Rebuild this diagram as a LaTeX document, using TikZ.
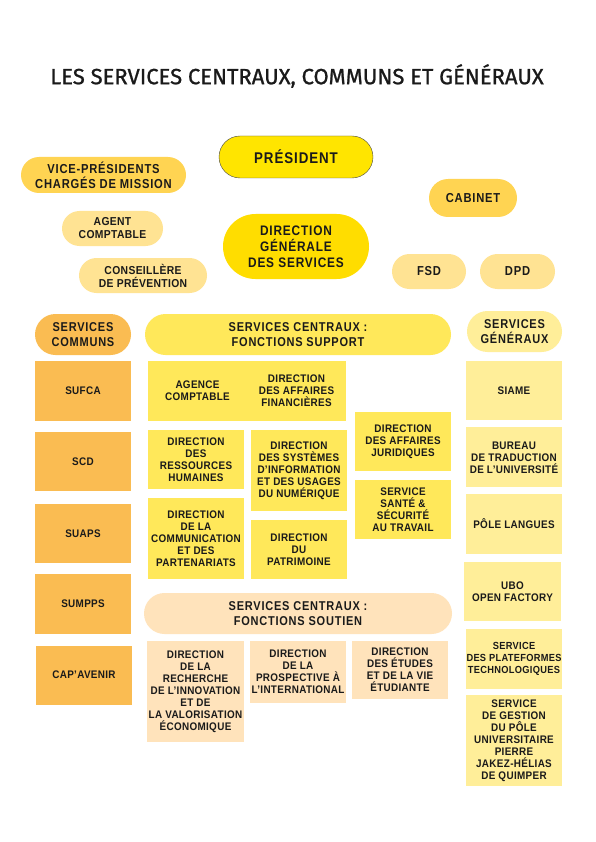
\documentclass[tikz,border=0pt]{standalone}
\usepackage{fontspec}
\usepackage{tikz}
\usetikzlibrary{positioning}
\newfontfamily\fcorps{Liberation Sans}[FakeStretch=0.9,LetterSpace=3]
\newfontfamily\ftete{Liberation Sans}[FakeStretch=0.86,LetterSpace=6]
\newfontfamily\ftitre{Fira Sans}[FakeBold=1]
\definecolor{cnoir}{HTML}{1A1A1A}
\definecolor{cpres}{HTML}{FFE500}
\definecolor{cdgs}{HTML}{FFDD00}
\definecolor{cvice}{HTML}{FFD452}
\definecolor{cclair}{HTML}{FFE393}
\definecolor{ccommun}{HTML}{FABC52}
\definecolor{csupport}{HTML}{FFE85A}
\definecolor{csoutien}{HTML}{FFE3BB}
\definecolor{cgeneral}{HTML}{FFEE99}
\tikzset{
  boite/.style={rectangle, inner sep=2pt, align=center, text=cnoir},
  texte/.style={boite, font=\fcorps\bfseries\fontsize{11}{12}\selectfont},
  pastille/.style={boite, rounded corners=#1, font=\ftete\bfseries\fontsize{13}{15}\selectfont},
  tete/.style={boite, rounded corners=20.5pt, minimum height=41pt,
    font=\ftete\bfseries\fontsize{12.8}{14.5}\selectfont},
  commun/.style={texte, fill=ccommun, minimum width=96pt},
  support/.style={texte, fill=csupport, minimum width=96pt},
  soutien/.style={texte, fill=csoutien, minimum width=96pt},
  general/.style={texte, fill=cgeneral, minimum width=96pt, inner xsep=0pt},
}
\begin{document}
\begin{tikzpicture}[x=1pt, y=-1pt]
  \useasboundingbox[fill=white] (0,0) rectangle (595,842);
  \node[font=\ftitre\fontsize{22}{24}\selectfont, text=cnoir] (titre) at (297,76)
    {LES SERVICES CENTRAUX, COMMUNS ET GÉNÉRAUX};

  % direction
  \node[pastille=21pt, draw=cnoir!80, fill=cpres, minimum width=154pt, minimum height=42pt,
    font=\ftete\bfseries\fontsize{15.5}{17}\selectfont] (pres) at (296,157) {PRÉSIDENT};
  \node[pastille=32.5pt, fill=cdgs, minimum width=146pt, minimum height=65pt,
    font=\ftete\bfseries\fontsize{13.8}{16}\selectfont] (dgs) at (296,246.5)
    {DIRECTION\\GÉNÉRALE\\DES SERVICES};
  \node[pastille=18pt, fill=cvice, minimum width=165pt, minimum height=36pt] (vice) at (103.5,175)
    {VICE-PRÉSIDENTS\\CHARGÉS DE MISSION};
  \node[pastille=17.5pt, fill=cclair, minimum width=101pt, minimum height=35pt,
    font=\fcorps\bfseries\fontsize{11.5}{13}\selectfont] (agent) at (112.5,228.5) {AGENT\\COMPTABLE};
  \node[pastille=17.5pt, fill=cclair, minimum width=128pt, minimum height=35pt,
    font=\fcorps\bfseries\fontsize{11.5}{13}\selectfont] (conseil) at (143,275.5)
    {CONSEILLÈRE\\DE PRÉVENTION};
  \node[pastille=19pt, fill=cvice, minimum width=88pt, minimum height=38pt] (cabinet) at (473,198) {CABINET};
  \node[pastille=17.5pt, fill=cclair, minimum width=74pt, minimum height=35pt] (fsd) at (429,271.5) {FSD};
  \node[pastille=17.5pt, fill=cclair, minimum width=75pt, minimum height=35pt] (dpd) at (517.5,271.5) {DPD};

  % services communs
  \node[tete, fill=ccommun, minimum width=96pt] (communs) at (83,334.5) {SERVICES\\COMMUNS};
  \node[commun, minimum height=60pt] (sufca) at (83,391) {SUFCA};
  \node[commun, minimum height=59pt, below=11pt of sufca] (scd) {SCD};
  \node[commun, minimum height=59pt, below=12pt of scd] (suaps) {SUAPS};
  \node[commun, minimum height=60pt, below=11pt of suaps] (sumpps) {SUMPPS};
  \node[commun, minimum height=59pt, below=11pt of sumpps, xshift=1pt] (capavenir) {CAP’AVENIR};

  % services centraux : fonctions support
  \node[tete, fill=csupport, minimum width=306pt] (support) at (298,334.5)
    {SERVICES CENTRAUX~:\\FONCTIONS SUPPORT};
  \node[support, minimum width=198pt, minimum height=60pt] (blocfin) at (247,391) {};
  \node[texte] (agence) at (197.5,391) {AGENCE\\COMPTABLE};
  \node[texte] (daf) at (296.5,391) {DIRECTION\\DES AFFAIRES\\FINANCIÈRES};
  \node[support, minimum height=59pt] (drh) at (196,459.5) {DIRECTION\\DES\\RESSOURCES\\HUMAINES};
  \node[support, minimum height=81pt] (dsiun) at (299,470.5)
    {DIRECTION\\DES SYSTÈMES\\D’INFORMATION\\ET DES USAGES\\DU NUMÉRIQUE};
  \node[support, minimum height=59pt] (daj) at (403,441.5) {DIRECTION\\DES AFFAIRES\\JURIDIQUES};
  \node[support, minimum height=59pt] (ssst) at (403,509.5) {SERVICE\\SANTÉ \&\\SÉCURITÉ\\AU TRAVAIL};
  \node[support, minimum height=81pt] (dcp) at (196,538.5)
    {DIRECTION\\DE LA\\COMMUNICATION\\ET DES\\PARTENARIATS};
  \node[support, minimum height=59pt] (dpat) at (299,549.5) {DIRECTION\\DU\\PATRIMOINE};

  % services centraux : fonctions soutien
  \node[tete, fill=csoutien, minimum width=308pt] (soutien) at (298,613.5)
    {SERVICES CENTRAUX~:\\FONCTIONS SOUTIEN};
  \node[soutien, minimum width=95pt, minimum height=101pt] (drive) at (195.5,691.5)
    {DIRECTION\\DE LA\\RECHERCHE\\DE L’INNOVATION\\ET DE\\LA VALORISATION\\ÉCONOMIQUE};
  \node[soutien, minimum height=62pt] (dpi) at (298,672)
    {DIRECTION\\DE LA\\PROSPECTIVE À\\L’INTERNATIONAL};
  \node[soutien, minimum height=58pt] (deve) at (400,670)
    {DIRECTION\\DES ÉTUDES\\ET DE LA VIE\\ÉTUDIANTE};

  % services generaux
  \node[tete, fill=cgeneral, minimum width=95pt] (generaux) at (514.5,331.5) {SERVICES\\GÉNÉRAUX};
  \node[general, minimum height=59pt] (siame) at (514,390.5) {SIAME};
  \node[general, minimum height=60pt, below=7pt of siame] (bureau)
    {BUREAU\\DE TRADUCTION\\DE L’UNIVERSITÉ};
  \node[general, minimum height=60pt, below=6pt of bureau] (langues) {PÔLE LANGUES};
  \node[general, minimum width=97pt, minimum height=59pt, below=8pt of langues, xshift=-1.5pt] (ubo)
    {UBO\\OPEN FACTORY};
  \node[general, minimum height=60pt, below=7pt of ubo, xshift=1.5pt,
    font=\fcorps\bfseries\fontsize{10.3}{12}\selectfont] (plateformes)
    {SERVICE\\DES PLATEFORMES\\TECHNOLOGIQUES};
  \node[general, minimum height=91pt, below=6pt of plateformes] (gestion)
    {SERVICE\\DE GESTION\\DU PÔLE\\UNIVERSITAIRE\\PIERRE\\JAKEZ-HÉLIAS\\DE QUIMPER};
\end{tikzpicture}
\end{document}
